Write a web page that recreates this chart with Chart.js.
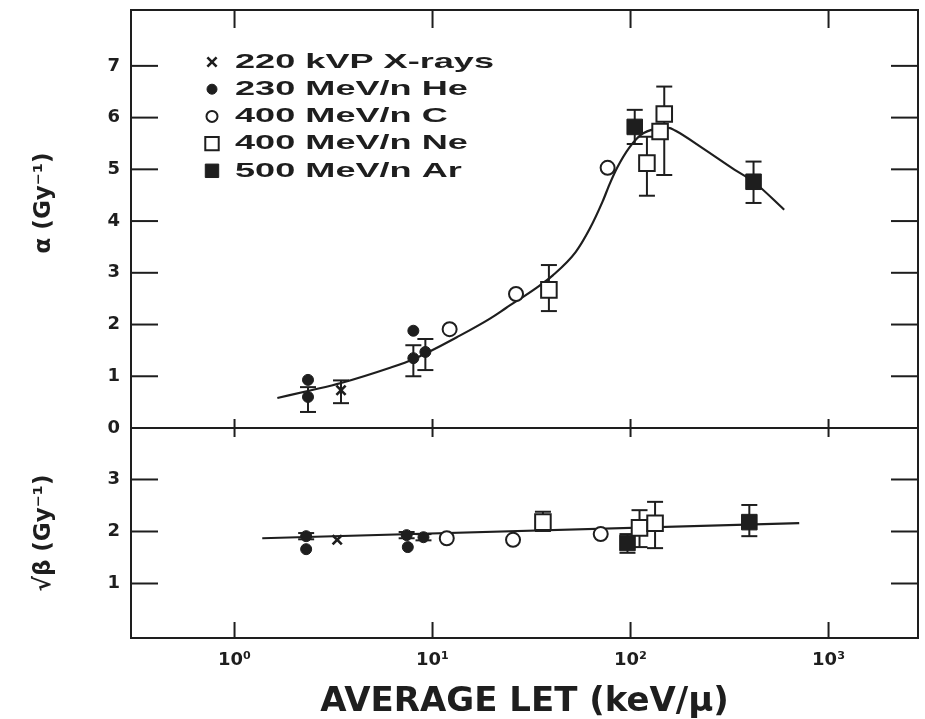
<!DOCTYPE html>
<html>
<head>
<meta charset="utf-8">
<title>Alpha and sqrt(beta) versus average LET</title>
<script src="https://cdn.jsdelivr.net/npm/chart.js@4.4.1/dist/chart.umd.min.js"></script>
<style>
  html, body { margin: 0; padding: 0; background: #ffffff; }
  #wrap { width: 925px; height: 719px; }
</style>
</head>
<body>
<div id="wrap"><canvas id="c" width="925" height="719"></canvas></div>
<script>
// ---------------- data ----------------
// x axis: average LET (keV/µm), log scale
const letTicks = [1, 10, 100, 1000];
const letTickLabels = ['10⁰', '10¹', '10²', '10³'];
const alphaTicks = [0, 1, 2, 3, 4, 5, 6, 7];
const betaTicks = [1, 2, 3];

// legend labels, one per beam
const beamLabels = ['220 kVP X-rays', '230 MeV/n He', '400 MeV/n C', '400 MeV/n Ne', '500 MeV/n Ar'];

// alpha (Gy^-1) panel
const xrayLetA = [3.45];
const xrayAlpha = [0.73];
const xrayAlphaLo = [0.48];
const xrayAlphaHi = [0.92];

const heLetA = [2.35, 2.35, 8.0, 8.0, 9.2];
const heAlpha = [0.93, 0.60, 1.88, 1.35, 1.47];
const heAlphaLo = [null, 0.31, null, 1.00, 1.12];
const heAlphaHi = [null, 0.79, null, 1.60, 1.72];

const cLetA = [12.2, 26.4, 76.6];
const cAlpha = [1.91, 2.59, 5.03];

const neLetA = [38.7, 121, 141, 148];
const neAlpha = [2.67, 5.12, 5.73, 6.07];
const neAlphaLo = [2.26, 4.49, null, 4.89];
const neAlphaHi = [3.15, 5.63, null, 6.60];

const arLetA = [105, 418];
const arAlpha = [5.82, 4.76];
const arAlphaLo = [5.49, 4.35];
const arAlphaHi = [6.15, 5.15];

// fitted alpha curve
const alphaFitLet = [1.645, 2.44, 3.45, 6.16, 8.03, 9.34, 13.2, 19.6, 23.5, 33.2, 40.5, 52.8, 62.2, 72.3, 78.5, 86.1, 98.6, 114, 133, 156, 168, 229, 336, 418, 597];
const alphaFit    = [0.58, 0.73, 0.87, 1.17, 1.33, 1.45, 1.75, 2.12, 2.32, 2.70, 2.95, 3.40, 3.85, 4.38, 4.72, 5.05, 5.42, 5.68, 5.78, 5.80, 5.75, 5.42, 4.99, 4.76, 4.22];

// sqrt(beta) (Gy^-1) panel
const xrayLetB = [3.3];
const xrayBeta = [1.84];

const heLetB = [2.3, 2.3, 7.4, 7.5, 9.0];
const heBeta = [1.91, 1.66, 1.93, 1.70, 1.89];
const heBetaLo = [1.85, null, 1.87, null, 1.83];
const heBetaHi = [1.97, null, 1.99, null, 1.95];

const cLetB = [11.8, 25.5, 70.7];
const cBeta = [1.87, 1.84, 1.95];

const neLetB = [36.1, 111, 133];
const neBeta = [2.18, 2.07, 2.16];
const neBetaLo = [2.01, 1.70, 1.68];
const neBetaHi = [2.38, 2.41, 2.57];

const arLetB = [96.5, 398];
const arBeta = [1.78, 2.18];
const arBetaLo = [1.59, 1.91];
const arBetaHi = [1.95, 2.51];

// fitted sqrt(beta) line
const betaFitLet = [1.38, 711];
const betaFit = [1.87, 2.16];

// ---------------- styling ----------------
const INK = '#1e1e1e';
const LET_MIN = 0.3185, LET_MAX = 2830;

const pts = (xs, ys) => xs.map((x, i) => ({ x: x, y: ys[i] }));

const markerStyles = [
  { pointStyle: 'crossRot', pointRadius: 6.5, backgroundColor: INK, borderColor: INK, borderWidth: 2.6, legendRadius: 6.5 },
  { pointStyle: 'circle', pointRadius: 5.5, backgroundColor: INK, borderColor: INK, borderWidth: 1, legendRadius: 5 },
  { pointStyle: 'circle', pointRadius: 7, backgroundColor: '#ffffff', borderColor: INK, borderWidth: 2, legendRadius: 5.5 },
  { pointStyle: 'rect', pointRadius: 11, backgroundColor: '#ffffff', borderColor: INK, borderWidth: 2, legendRadius: 9.5 },
  { pointStyle: 'rect', pointRadius: 11, backgroundColor: INK, borderColor: INK, borderWidth: 1, legendRadius: 9.5 }
];

function markerSet(k, axis, data, lo, hi) {
  const s = markerStyles[k];
  return Object.assign({
    label: beamLabels[k],
    data: data,
    yAxisID: axis,
    showLine: false,
    pointHoverRadius: s.pointRadius,
    errLo: lo || null,
    errHi: hi || null,
    inLegend: axis === 'yA',
    order: 1
  }, s);
}

function fitSet(axis, data) {
  return {
    label: 'fit',
    data: data,
    yAxisID: axis,
    showLine: true,
    borderColor: INK,
    borderWidth: 2.2,
    pointRadius: 0,
    pointHoverRadius: 0,
    cubicInterpolationMode: 'monotone',
    fill: false,
    order: 5
  };
}

const datasets = [
  markerSet(0, 'yA', pts(xrayLetA, xrayAlpha), xrayAlphaLo, xrayAlphaHi),
  markerSet(1, 'yA', pts(heLetA, heAlpha), heAlphaLo, heAlphaHi),
  markerSet(2, 'yA', pts(cLetA, cAlpha)),
  markerSet(3, 'yA', pts(neLetA, neAlpha), neAlphaLo, neAlphaHi),
  markerSet(4, 'yA', pts(arLetA, arAlpha), arAlphaLo, arAlphaHi),
  fitSet('yA', pts(alphaFitLet, alphaFit)),
  markerSet(0, 'yB', pts(xrayLetB, xrayBeta)),
  markerSet(1, 'yB', pts(heLetB, heBeta), heBetaLo, heBetaHi),
  markerSet(2, 'yB', pts(cLetB, cBeta)),
  markerSet(3, 'yB', pts(neLetB, neBeta), neBetaLo, neBetaHi),
  markerSet(4, 'yB', pts(arLetB, arBeta), arBetaLo, arBetaHi),
  fitSet('yB', pts(betaFitLet, betaFit))
];

// ---------------- plugins ----------------
function seg(ctx, x1, y1, x2, y2) {
  ctx.beginPath(); ctx.moveTo(x1, y1); ctx.lineTo(x2, y2); ctx.stroke();
}

// vertical error bars with end caps, under the markers
const errorBars = {
  id: 'errorBars',
  beforeDatasetsDraw(chart) {
    const ctx = chart.ctx;
    ctx.save();
    ctx.strokeStyle = INK;
    ctx.lineWidth = 2;
    chart.data.datasets.forEach((ds, di) => {
      if (!ds.errLo) return;
      const meta = chart.getDatasetMeta(di);
      const xs = chart.scales[meta.xAxisID];
      const ys = chart.scales[meta.yAxisID];
      ds.data.forEach((p, i) => {
        const lo = ds.errLo[i], hi = ds.errHi[i];
        if (lo == null || hi == null) return;
        const x = xs.getPixelForValue(p.x);
        const yl = ys.getPixelForValue(lo);
        const yh = ys.getPixelForValue(hi);
        seg(ctx, x, yl, x, yh);
        seg(ctx, x - 8, yl, x + 8, yl);
        seg(ctx, x - 8, yh, x + 8, yh);
      });
    });
    ctx.restore();
  }
};

// box frame, panel divider and inward tick marks
const frameTicks = {
  id: 'frameTicks',
  afterDatasetsDraw(chart) {
    const { ctx, chartArea: a, scales } = chart;
    const xs = scales.x, ya = scales.yA, yb = scales.yB;
    ctx.save();
    ctx.strokeStyle = INK;
    ctx.lineWidth = 2;
    ctx.strokeRect(a.left, a.top, a.right - a.left, a.bottom - a.top);
    const mid = ya.getPixelForValue(0);
    seg(ctx, a.left, mid, a.right, mid);
    alphaTicks.forEach(v => {
      const y = ya.getPixelForValue(v);
      seg(ctx, a.left, y, a.left + 27, y);
      seg(ctx, a.right - 27, y, a.right, y);
    });
    betaTicks.forEach(v => {
      const y = yb.getPixelForValue(v);
      seg(ctx, a.left, y, a.left + 27, y);
      seg(ctx, a.right - 27, y, a.right, y);
    });
    letTicks.forEach(v => {
      const x = xs.getPixelForValue(v);
      seg(ctx, x, a.top, x, a.top + 18);
      seg(ctx, x, mid - 9, x, mid + 9);
      seg(ctx, x, a.bottom - 16, x, a.bottom);
    });
    ctx.restore();
  }
};

// key in the upper-left corner of the alpha panel
const cornerKey = {
  id: 'cornerKey',
  afterDraw(chart) {
    const { ctx, chartArea: a } = chart;
    const items = chart.data.datasets.filter(d => d.inLegend);
    ctx.save();
    ctx.textBaseline = 'middle';
    ctx.textAlign = 'left';
    ctx.font = 'bold 21px "Liberation Sans", Arial, sans-serif';
    items.forEach((d, i) => {
      const cy = a.top + 52 + i * 27.2;
      const mx = a.left + 81;
      ctx.strokeStyle = d.borderColor;
      ctx.fillStyle = d.backgroundColor;
      ctx.lineWidth = d.borderWidth;
      Chart.helpers.drawPoint(ctx, { pointStyle: d.pointStyle, rotation: 0, radius: d.legendRadius, borderWidth: d.borderWidth }, mx, cy);
      ctx.fillStyle = INK;
      ctx.save();
      ctx.translate(a.left + 104, cy);
      ctx.scale(1.72, 1);
      ctx.fillText(d.label, 0, 0);
      ctx.restore();
    });
    ctx.restore();
  }
};

// fixed axis boxes so the plot frame lands where it should
function fixBox(s, w, h) {
  if (w != null) s.width = w;
  if (h != null) s.height = h;
  s.paddingTop = 0; s.paddingBottom = 0; s.paddingLeft = 0; s.paddingRight = 0;
}

// ---------------- chart ----------------
const tickFont = { family: 'DejaVu Sans', weight: 'bold', size: 18 };
const titleFont = { family: 'DejaVu Sans', weight: 'bold', size: 23, lineHeight: 1.2 };

new Chart(document.getElementById('c'), {
  type: 'scatter',
  data: { datasets: datasets },
  plugins: [errorBars, frameTicks, cornerKey],
  options: {
    responsive: false,
    devicePixelRatio: 1,
    animation: false,
    layout: { autoPadding: false, padding: { top: 10, right: 7, left: 0, bottom: 0 } },
    plugins: { legend: { display: false }, tooltip: { enabled: false } },
    scales: {
      x: {
        type: 'logarithmic',
        position: 'bottom',
        min: LET_MIN,
        max: LET_MAX,
        grid: { display: false, drawTicks: false },
        border: { display: false },
        afterBuildTicks: s => { s.ticks = letTicks.map(v => ({ value: v })); },
        afterFit: s => fixBox(s, null, 81),
        ticks: {
          font: tickFont, color: INK, padding: 12, maxRotation: 0, autoSkip: false,
          callback: (v, i) => letTickLabels[i]
        },
        title: {
          display: true,
          text: 'AVERAGE LET (keV/μ)',
          color: INK,
          font: { family: 'DejaVu Sans', weight: 'bold', size: 34, lineHeight: 1 },
          padding: { top: 0, bottom: 0 }
        }
      },
      yB: {
        type: 'linear',
        position: 'left',
        stack: 'panels',
        stackWeight: 210,
        min: -0.048,
        max: 3.99,
        grid: { display: false, drawTicks: false },
        border: { display: false },
        afterBuildTicks: s => { s.ticks = betaTicks.map(v => ({ value: v })); },
        afterFit: s => fixBox(s, 131, null),
        ticks: { font: tickFont, color: INK, padding: 11, callback: v => String(v) },
        title: { display: true, text: '√β (Gy⁻¹)', color: INK, font: titleFont, padding: { top: 30, bottom: 0 } }
      },
      yA: {
        type: 'linear',
        position: 'left',
        stack: 'panels',
        stackWeight: 418,
        min: 0,
        max: 8.08,
        grid: { display: false, drawTicks: false },
        border: { display: false },
        afterBuildTicks: s => { s.ticks = alphaTicks.map(v => ({ value: v })); },
        afterFit: s => fixBox(s, 131, null),
        ticks: { font: tickFont, color: INK, padding: 11, callback: v => String(v) },
        title: { display: true, text: '    α (Gy⁻¹)', color: INK, font: titleFont, padding: { top: 30, bottom: 0 } }
      }
    }
  }
});
</script>
</body>
</html>
